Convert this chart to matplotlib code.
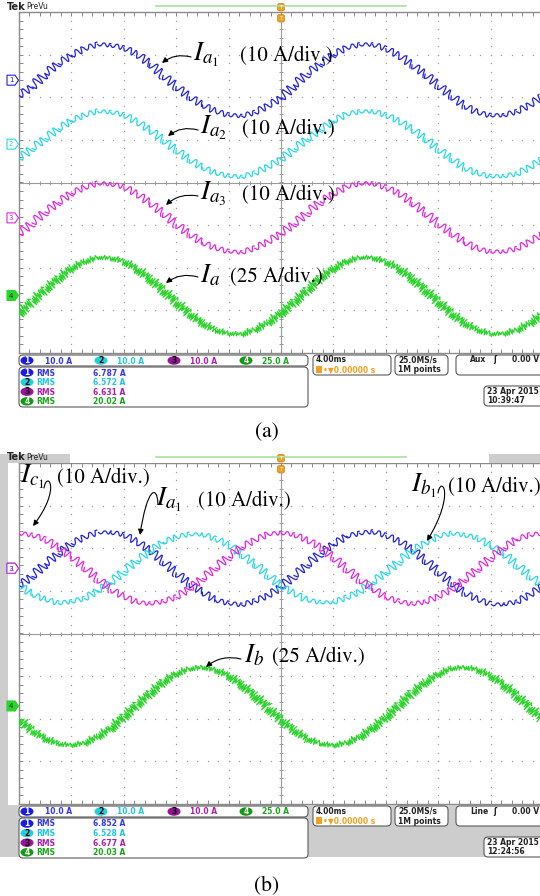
import numpy as np
import matplotlib.pyplot as plt
from matplotlib.patches import FancyBboxPatch, FancyArrowPatch, Rectangle, Ellipse, Polygon
from matplotlib.path import Path

plt.rcParams['mathtext.fontset'] = 'stix'
plt.rcParams['font.family'] = ['DejaVu Sans']

W, H = 540, 896

# sample instants (ms), 4 ms/div, trigger at 0
t_ms = [-20, -19, -18, -17, -16, -15, -14, -13, -12, -11, -10, -9, -8, -7, -6, -5, -4, -3, -2, -1,
        0, 1, 2, 3, 4, 5, 6, 7, 8, 9, 10, 11, 12, 13, 14, 15, 16, 17, 18, 19, 20]

# (a) phase a currents of the three converters and the total (A)
a_ia1 = [-3.6, -1.6, 1.5, 3.9, 5.8, 7.4, 8.4, 8.2, 7.6, 6.1, 3.9, 1.1, -1.5, -3.9, -5.8, -7.3, -8.2, -8.4, -7.6, -6.0,
         -4.2, -1.2, 1.6, 3.8, 6.0, 7.6, 8.3, 8.4, 7.4, 5.8, 3.6, 1.4, -1.2, -3.7, -6.0, -7.6, -8.3, -8.2, -7.4, -5.8, -3.7]
a_ia2 = [-3.4, -1.0, 1.3, 3.6, 5.5, 6.8, 7.7, 7.5, 6.9, 5.2, 3.3, 1.0, -1.4, -3.6, -5.5, -6.8, -7.5, -7.7, -6.8, -5.3,
         -3.6, -1.1, 1.2, 3.4, 5.4, 7.0, 7.6, 7.7, 6.8, 5.4, 3.5, 1.3, -1.2, -3.4, -5.6, -6.9, -7.6, -7.5, -7.0, -5.4, -3.5]
a_ia3 = [-3.8, -1.2, 1.4, 3.6, 5.8, 7.1, 8.1, 7.9, 7.3, 5.6, 3.5, 1.1, -1.5, -3.8, -5.8, -7.1, -7.9, -8.1, -7.1, -5.6,
         -3.7, -1.4, 1.2, 3.8, 5.6, 7.3, 8.0, 8.1, 7.1, 5.8, 3.6, 1.2, -1.4, -3.6, -5.7, -7.3, -8.0, -7.9, -7.2, -5.6, -3.8]
a_ia = [-10.5, -3.3, 3.7, 10.1, 16.2, 20.0, 22.4, 22.1, 20.3, 15.8, 10.0, 3.3, -3.7, -10.5, -16.1, -20.2, -22.2, -22.5, -19.9, -15.8,
        -10.2, -3.6, 3.4, 10.4, 15.9, 20.2, 22.3, 22.4, 20.0, 16.1, 10.2, 3.6, -3.4, -10.2, -16.0, -20.0, -22.4, -22.2, -20.1, -16.1, -10.3]

# (b) three phase currents of converter 1 and the total phase b current (A)
b_ia1 = [-4.1, -1.9, 1.0, 3.4, 5.8, 7.3, 8.4, 8.4, 7.9, 6.2, 4.2, 1.6, -1.1, -3.6, -5.6, -7.5, -8.2, -8.6, -7.7, -6.4,
         -4.4, -1.7, 0.8, 3.6, 5.6, 7.5, 8.2, 8.6, 7.7, 6.4, 4.4, 1.9, -0.8, -3.4, -5.8, -7.3, -8.4, -8.4, -7.9, -6.2, -4.2]
b_ib1 = [-4.0, -6.1, -7.3, -8.2, -7.8, -7.1, -5.3, -3.4, -0.7, 1.8, 4.0, 6.1, 7.3, 8.0, 8.0, 6.9, 5.5, 3.2, 1.0, -1.6,
         -4.2, -5.9, -7.5, -8.0, -8.0, -6.9, -5.5, -3.2, -1.0, 1.6, 4.2, 5.9, 7.5, 8.2, 7.8, 7.1, 5.3, 3.4, 0.8, -1.8, -4.1]
b_ic1 = [8.2, 7.8, 6.8, 4.8, 2.7, 0.2, -2.5, -5.0, -6.6, -8.0, -8.3, -7.8, -6.8, -4.8, -2.4, 0.1, 2.7, 5.0, 6.6, 8.0,
         8.3, 7.9, 6.6, 5.0, 2.5, -0.1, -2.7, -4.8, -6.8, -7.8, -8.4, -7.9, -6.6, -5.0, -2.7, -0.2, 2.5, 4.8, 6.8, 7.8, 8.2]
b_ib = [-7.6, -14.3, -18.8, -22.1, -22.8, -21.6, -17.8, -12.9, -6.1, 0.9, 7.6, 14.2, 19.1, 21.9, 22.9, 21.4, 18.1, 12.6, 6.4, -0.9,
        -7.9, -14.0, -19.1, -21.9, -23.0, -21.4, -18.1, -12.7, -6.4, 0.7, 7.9, 14.0, 18.9, 22.1, 22.8, 21.6, 17.9, 12.9, 6.2, -0.7, -7.8]

ch_scale = [10.0, 10.0, 10.0, 25.0]      # A/div
a_offset = [2.4, 0.9, -0.83, -2.65]      # trace position, div
b_offset = [1.53, 1.53, 1.53, -1.7]
a_rms = ['6.787 A', '6.572 A', '6.631 A', '20.02 A']
b_rms = ['6.852 A', '6.528 A', '6.677 A', '20.03 A']
a_stamp = ['23 Apr 2015', '10:39:47']
b_stamp = ['23 Apr 2015', '12:24:56']

trace_col = ['#2020e2', '#26d8e4', '#e026e0', '#2ad42a']
text_col = ['#3434f4', '#1ec8dc', '#ac1eac', '#18a418']
oval_col = ['#1a1ae0', '#22d0da', '#98129a', '#139a13']
num_col = ['white', 'black', 'black', 'white']
grey = '#cdcdcd'

fig = plt.figure(figsize=(W / 100, H / 100), dpi=100)
ov = fig.add_axes([0, 0, 1, 1], zorder=5)
ov.set_xlim(0, W)
ov.set_ylim(H, 0)
ov.axis('off')


def scope_axes(top):
    ax = fig.add_axes([19 / W, 1 - (top + 341) / H, 521 / W, 341 / H])
    ax.set_xlim(-20, 19.77)
    ax.set_ylim(-4, 4)
    ax.axis('off')
    g = '#a0a0a0'
    dots_t = np.arange(-20, 20.01, 0.8)
    dots_y = np.arange(-4, 4.01, 0.2)
    for k in range(1, 11):
        ax.plot([-20 + 4 * k] * len(dots_y), dots_y, ls='none', marker='o', ms=1.0, mew=0, color=g)
    for k in range(-3, 4):
        ax.plot(dots_t, [k] * len(dots_t), ls='none', marker='o', ms=1.0, mew=0, color=g)
    ax.axhline(0, color='#9a9a9a', lw=0.8)
    ax.axvline(0, color='#9a9a9a', lw=0.8)
    ax.plot(dots_t, [0] * len(dots_t), ls='none', marker='|', ms=3.5, mew=0.7, color='#9a9a9a')
    ax.plot([0] * len(dots_y), dots_y, ls='none', marker='_', ms=3.5, mew=0.7, color='#9a9a9a')
    # frame with small ticks
    ax.plot([-20, -20], [-4, 4], color='#8a8a8a', lw=1.0, clip_on=False)
    ax.plot([-20, 20], [4, 4], color='#8a8a8a', lw=1.0, clip_on=False)
    ax.plot([-20, 20], [-4, -4], color='#8a8a8a', lw=1.0, clip_on=False)
    ax.plot([-19.85] * len(dots_y), dots_y, ls='none', marker='_', ms=2.5, mew=0.7, color='#8a8a8a')
    ax.plot(dots_t, [3.95] * len(dots_t), ls='none', marker='|', ms=2.5, mew=0.7, color='#8a8a8a')
    ax.plot(dots_t, [-3.95] * len(dots_t), ls='none', marker='|', ms=2.5, mew=0.7, color='#8a8a8a')
    return ax


def trace(ax, vals, ch, pos, rip0, rip1, length):
    # switching ripple drawn as a sketch effect, stronger where the current changes fast
    y = [pos + v / ch_scale[ch] for v in vals]
    for i in range(len(t_ms) - 1):
        ln, = ax.plot(t_ms[i:i + 2], y[i:i + 2], color=trace_col[ch], lw=0.9, zorder=3)
        ln.set_sketch_params(rip0 + rip1 * abs(y[i + 1] - y[i]), length, 2.0)


def ch_marker(ch, y, filled=False):
    pts = [(7, y - 5), (15, y - 5), (18.5, y), (15, y + 5), (7, y + 5)]
    ov.add_patch(Polygon(pts, closed=True, fc=trace_col[ch] if filled else 'white',
                         ec=trace_col[ch], lw=0.8))
    ov.text(11, y + 0.3, str(ch + 1), fontsize=5, ha='center', va='center',
            color='#1a3a1a' if filled else trace_col[ch])


def rbox(x, y, w, h):
    ov.add_patch(FancyBboxPatch((x, y), w, h, boxstyle='round,pad=0,rounding_size=4',
                                fc='white', ec='#5a5a5a', lw=0.8, clip_on=False))


def oval(cx, cy, ch):
    ov.add_patch(Ellipse((cx, cy), 13, 8.5, fc=oval_col[ch], ec='none'))
    ov.text(cx, cy + 0.3, str(ch + 1), fontsize=5.5, fontweight='bold', ha='center',
            va='center', color=num_col[ch])


def stext(x, y, s, c='#222222'):
    ov.text(x, y, s, fontsize=5.5, fontweight='bold', va='center', color=c)


def header(oy, band):
    if band:
        ov.add_patch(Rectangle((0, oy + 3), W, 9, fc=grey, ec='none'))
        ov.add_patch(Rectangle((70, oy + 3), 419, 9, fc='white', ec='none'))
    ov.text(7, oy + 6.5, 'Tek', fontsize=7, fontweight='bold', va='center', color='#222222')
    ov.text(26, oy + 6.2, 'PreVu', fontsize=5.5, va='center', color='#222222')
    ov.plot([156, 406], [oy + 6.5, oy + 6.5], color='#a8e0a0', lw=1.2)
    for yy in (oy + 3.5, oy + 14.5):
        ov.add_patch(FancyBboxPatch((277.5, yy), 7, 7.5, boxstyle='round,pad=0,rounding_size=2',
                                    fc='#f0a020', ec='#d08010', lw=0.5))
        ov.text(281, yy + 3.9, 'T', fontsize=4, ha='center', va='center', color='white')


def status(oy, rms, stamp, src):
    rbox(19, oy + 355, 289, 11)
    for i, (xo, xt) in enumerate(zip([27, 101, 174, 246], [45, 117, 190, 262])):
        oval(xo, oy + 360.5, i)
        stext(xt, oy + 361, f'{ch_scale[i]:.1f} A', text_col[i])
    rbox(19, oy + 367, 289, 40)
    for i in range(4):
        yy = oy + 372.5 + 9.6 * i
        oval(27, yy, i)
        stext(36, yy + 0.5, 'RMS', text_col[i])
        stext(93, yy + 0.5, rms[i], text_col[i])
    rbox(313, oy + 355, 78, 20)
    stext(316, oy + 360, '4.00ms')
    ov.add_patch(Rectangle((316, oy + 366), 6, 7, fc='#f0a020', ec='none'))
    stext(323, oy + 370, '•▼0.00000 s', '#f0a020')
    rbox(395, oy + 355, 53, 20)
    stext(398, oy + 360, '25.0MS/s')
    stext(398, oy + 370, '1M points')
    rbox(456, oy + 355, 100, 20)
    stext(470, oy + 360, src)
    stext(493, oy + 360, 'ʃ')
    stext(512, oy + 360, '0.00 V')
    rbox(484, oy + 386, 70, 20)
    stext(487, oy + 391.5, stamp[0])
    stext(487, oy + 400.5, stamp[1])


def label(xm, xt, y, name, scale):
    # math symbol and the "(.. A/div.)" part share one baseline
    ov.text(xm, y, name, fontsize=19.5, va='baseline', ha='left', color='black')
    ov.text(xt, y, scale, fontsize=15, family='STIXGeneral', va='baseline', ha='left',
            color='black')


def arrow(tail, tip, rad=0.25):
    ov.add_patch(FancyArrowPatch(tail, tip, arrowstyle='-|>', mutation_scale=8, lw=0.8,
                                 color='black', connectionstyle=f'arc3,rad={rad}',
                                 shrinkA=0, shrinkB=0))


def hook(p0, p1, p2, p3):
    path = Path([p0, p1, p2, p3], [Path.MOVETO, Path.CURVE4, Path.CURVE4, Path.CURVE4])
    ov.add_patch(FancyArrowPatch(path=path, arrowstyle='-|>', mutation_scale=8, lw=0.8,
                                 color='black'))


# ---------------- panel (a) ----------------
header(0, False)
ax_a = scope_axes(12)
trace(ax_a, a_ia1, 0, a_offset[0], 1.6, 11, 7)
trace(ax_a, a_ia2, 1, a_offset[1], 1.6, 11, 7)
trace(ax_a, a_ia3, 2, a_offset[2], 1.6, 11, 7)
trace(ax_a, a_ia, 3, a_offset[3], 2.2, 13, 2)
for i in range(4):
    ch_marker(i, 182.5 - a_offset[i] * 42.625, filled=(i == 3))
status(0, a_rms, a_stamp, 'Aux')

label(193, 240, 61, r'$I_{a_1}$', '(10 A/div.)')
arrow((191, 57), (162, 63))
label(200, 242, 134, r'$I_{a_2}$', '(10 A/div.)')
arrow((198, 130), (168, 136))
label(200, 242, 200, r'$I_{a_3}$', '(10 A/div.)')
arrow((198, 196), (166, 205))
label(200, 230, 282, r'$I_{a}$', '(25 A/div.)')
arrow((198, 277), (166, 283))
ov.text(267, 432, '(a)', fontsize=15.5, family='STIXGeneral', ha='center', va='center')

# ---------------- panel (b) ----------------
oy = 451
ov.add_patch(Rectangle((0, oy + 3), 8, 403, fc=grey, ec='none'))
ov.add_patch(Rectangle((0, oy + 354), W, 52, fc=grey, ec='none', zorder=0.5))
header(oy, True)
ax_b = scope_axes(oy + 12)
trace(ax_b, b_ia1, 0, b_offset[0], 1.6, 11, 7)
trace(ax_b, b_ib1, 1, b_offset[1], 1.6, 11, 7)
trace(ax_b, b_ic1, 2, b_offset[2], 1.6, 11, 7)
trace(ax_b, b_ib, 3, b_offset[3], 2.2, 13, 2)
for i in range(4):
    ch_marker(i, oy + 182.5 - b_offset[i] * 42.625, filled=(i == 3))
status(oy, b_rms, b_stamp, 'Line')

label(20, 57, 483, r'$I_{c_1}$', '(10 A/div.)')
hook((44, 488), (47, 470), (62, 488), (33, 526))
label(156, 198, 506, r'$I_{a_1}$', '(10 A/div.)')
hook((158, 504), (157, 484), (147, 488), (140, 535))
label(411, 448, 492, r'$I_{b_1}$', '(10 A/div.)')
hook((438, 493), (441, 475), (456, 493), (427, 541))
label(244, 272, 662, r'$I_{b}$', '(25 A/div.)')
arrow((241, 659), (206, 667))
ov.text(267, 886, '(b)', fontsize=15.5, family='STIXGeneral', ha='center', va='center')

fig.savefig('out.png', dpi=100)
